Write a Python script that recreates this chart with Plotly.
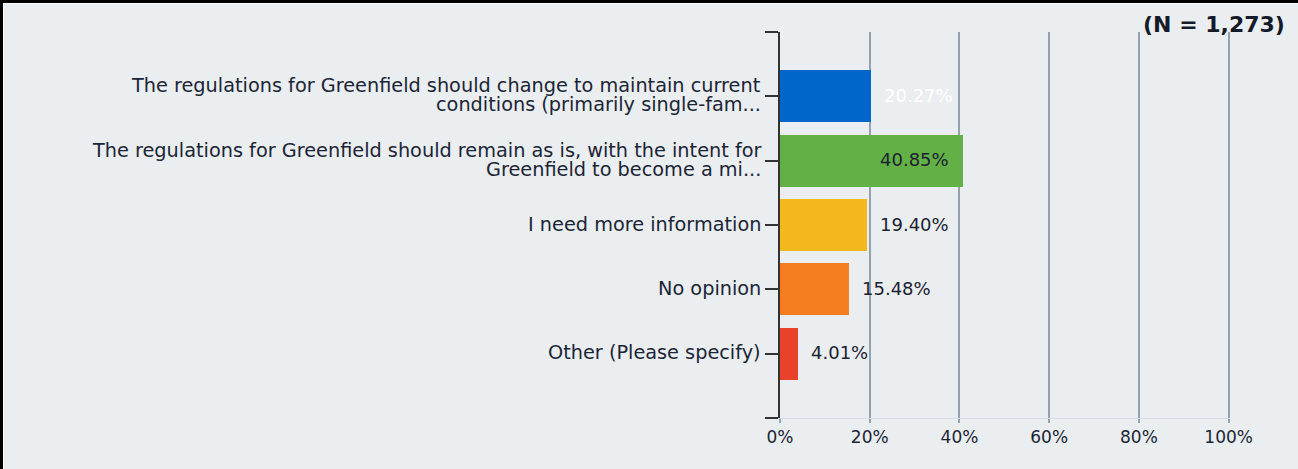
import plotly.graph_objects as go

# Survey responses (share of respondents, %)
categories = [
    "The regulations for Greenfield should change to maintain current\nconditions (primarily single-fam...",
    "The regulations for Greenfield should remain as is, with the intent for\nGreenfield to become a mi...",
    "I need more information",
    "No opinion",
    "Other (Please specify)",
]
values = [20.27, 40.85, 19.40, 15.48, 4.01]
colors = ["#0066cc", "#62b046", "#f2b81e", "#f47d20", "#e8432a"]
label_colors = ["#ffffff", "#1c2230", "#1c2230", "#1c2230", "#1c2230"]
label_inside = [False, True, False, False, False]
x_ticks = [0, 20, 40, 60, 80, 100]
sample_note = "(N = 1,273)"

W, H = 1298, 469
ML, MR, MT, MB = 780, 68, 32, 51
PW, PH = W - ML - MR, H - MT - MB

FONT = "DejaVu Sans"
TEXT = "#1c2535"
BG = "#eaeef1"

positions = list(range(len(categories)))

fig = go.Figure(
    go.Bar(
        x=values,
        y=positions,
        orientation="h",
        width=0.81,
        marker=dict(color=colors, line=dict(width=0)),
        hoverinfo="skip",
    )
)

annotations = []

# category labels, one annotation per line for tight line spacing
for pos, cat in zip(positions, categories):
    lines = cat.split("\n")
    if len(lines) == 1:
        shifts = [1]
    else:
        shifts = [10.5, -8.5]
    for line, ys in zip(lines, shifts):
        annotations.append(dict(
            x=0, xref="paper", y=pos, yref="y",
            text=line, showarrow=False,
            xanchor="right", yanchor="middle",
            xshift=-17, yshift=ys,
            font=dict(family=FONT, size=19.3, color=TEXT),
        ))

# value labels
for pos, v, lc, inside in zip(positions, values, label_colors, label_inside):
    annotations.append(dict(
        x=v, xref="x", y=pos, yref="y",
        text=f"{v:.2f}%", showarrow=False,
        xanchor="right" if inside else "left", yanchor="middle",
        xshift=-12 if inside else 11, yshift=1,
        font=dict(family=FONT, size=18, color=lc),
    ))

annotations.append(dict(
    x=1, xref="paper", y=1, yref="paper",
    text=f"<b>{sample_note}</b>", showarrow=False,
    xanchor="right", yanchor="middle",
    xshift=57, yshift=8,
    font=dict(family=FONT, size=22, color="#141a28"),
))

# frame edges (top and left)
px_x = 1.0 / PW
px_y = 1.0 / PH
x_left = -ML * px_x
x_right = 1 + MR * px_x
y_top = 1 + MT * px_y
y_bot = -MB * px_y
shapes = [
    dict(type="rect", xref="paper", yref="paper",
         x0=x_left, x1=x_right, y0=y_top - 3 * px_y, y1=y_top,
         fillcolor="#000000", line=dict(width=0), layer="above"),
    dict(type="rect", xref="paper", yref="paper",
         x0=x_left, x1=x_left + 3 * px_x, y0=y_bot, y1=y_top,
         fillcolor="#000000", line=dict(width=0), layer="above"),
    dict(type="rect", xref="paper", yref="paper",
         x0=x_left + 3 * px_x, x1=x_right, y0=y_top - 4 * px_y, y1=y_top - 3 * px_y,
         fillcolor="#ffffff", line=dict(width=0), layer="above"),
    dict(type="rect", xref="paper", yref="paper",
         x0=x_left + 3 * px_x, x1=x_left + 4 * px_x, y0=y_bot, y1=y_top - 3 * px_y,
         fillcolor="#ffffff", line=dict(width=0), layer="above"),
]

fig.update_layout(
    width=W, height=H,
    margin=dict(l=ML, r=MR, t=MT, b=MB, pad=0),
    paper_bgcolor=BG, plot_bgcolor=BG,
    showlegend=False,
    bargap=0,
    annotations=annotations,
    shapes=shapes,
    xaxis=dict(
        range=[0, 100.3],
        tickvals=x_ticks,
        ticktext=[f"{t}%" for t in x_ticks],
        showgrid=True, gridcolor="#93a3ad", gridwidth=2,
        zeroline=False,
        showline=True, linecolor="#d3dce6", linewidth=1,
        ticks="outside", ticklen=4, tickwidth=2, tickcolor="#93a3ad",
        tickfont=dict(family=FONT, size=17, color=TEXT),
        fixedrange=True,
    ),
    yaxis=dict(
        range=[len(categories), -1],
        tickvals=list(range(-1, len(categories) + 1)),
        ticktext=[""] * (len(categories) + 2),
        showgrid=False, zeroline=False,
        showline=True, linecolor="#333333", linewidth=2,
        ticks="outside", ticklen=13, tickwidth=1.5, tickcolor="#333333",
        fixedrange=True,
    ),
)

fig.write_html("out.html")
